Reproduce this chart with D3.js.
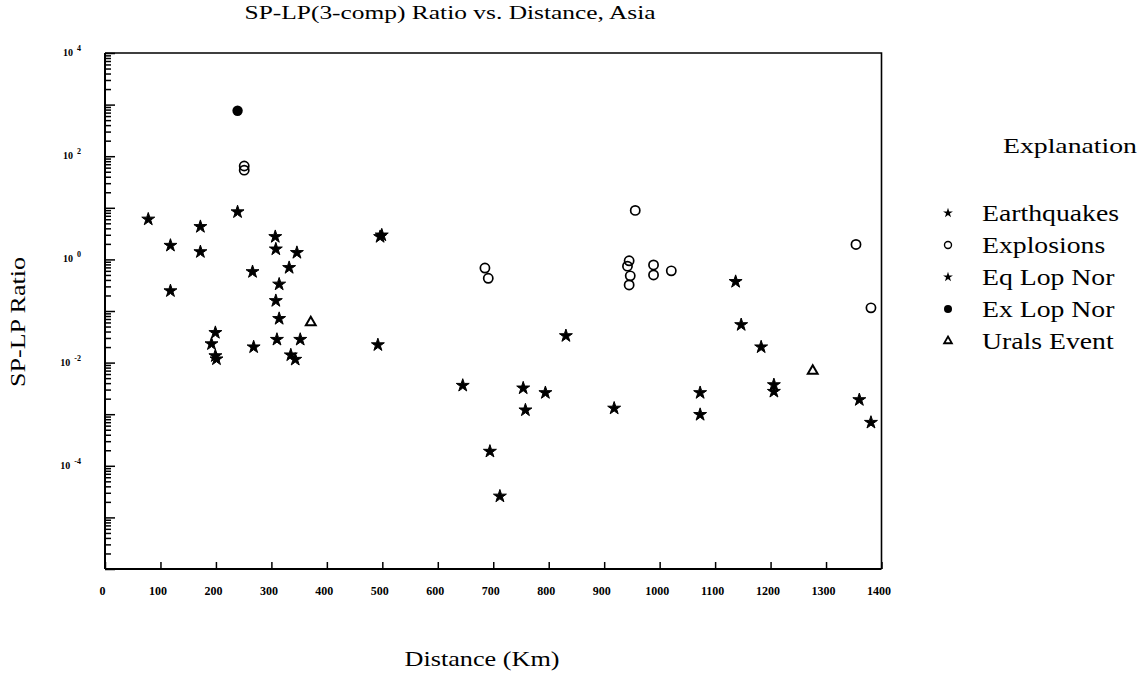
<!DOCTYPE html>
<html><head><meta charset="utf-8">
<script src="https://cdnjs.cloudflare.com/ajax/libs/d3/7.8.5/d3.min.js"></script>
<style>
body{margin:0;background:#fff;}
svg text{font-family:"Liberation Serif","Times New Roman",serif;fill:#000;}
</style></head>
<body><svg id="c" width="1143" height="678"></svg>
<script>
// ---- data (distance km, SP-LP ratio) ----
const earthquakes = [
  [78,6.0],[118,1.86],[118,0.245],[172,4.3],[172,1.4],[199,0.038],[192,0.023],[199,0.0135],[201,0.0117],
  [266,0.575],[268,0.020],[307,2.75],[308,1.58],[346,1.35],[332,0.69],[314,0.33],[308,0.158],[314,0.071],
  [310,0.028],[352,0.028],[335,0.014],[343,0.0115],[496,2.75],[492,0.022],[645,0.0036],[694,0.00019],
  [712,0.0000257],[754,0.0032],[758,0.0012],[794,0.0026],[831,0.033],[918,0.0013],[1073,0.0026],
  [1073,0.00098],[1137,0.37],[1147,0.054],[1183,0.020],[1206,0.0037],[1206,0.00275],[1360,0.0019],[1381,0.00069]
];
const explosions = [
  [251,64.6],[251,53.7],[685,0.68],[691,0.43],[956,8.9],[945,0.94],[942,0.74],[947,0.48],[945,0.32],
  [989,0.78],[989,0.50],[1021,0.60],[1354,1.95],[1381,0.115]
];
const eqLopNor = [[239,8.3],[499,2.95]];
const exLopNor = [[239,760]];
const uralsEvent = [[371,0.063],[1276,0.0072]];
const xTicks = [0,100,200,300,400,500,600,700,800,900,1000,1100,1200,1300,1400];
const yTickExps = [4,2,0,-2,-4];
const legendLabels = ["Earthquakes","Explosions","Eq Lop Nor","Ex Lop Nor","Urals Event"];
const legendSymbols = ["star","circle","star","dot","triangle"];

const svg = d3.select("#c");
const L=105, R=881.5, T=53, B=569;
const x = d3.scaleLinear().domain([0,1400]).range([L,R]);
const y = d3.scaleLog().domain([1e-6,1e4]).range([B,T]);

// frame
svg.append("path").attr("d",`M${L},${T}H${R}V${B}`).attr("fill","none").attr("stroke","#000").attr("stroke-width",1.6);

// y ticks (log minor + decade) via d3 axes
const minorVals = [], majorVals = [];
for(let e=-6;e<4;e++){ majorVals.push(Math.pow(10,e)); for(let m=2;m<10;m++) minorVals.push(m*Math.pow(10,e)); }
majorVals.push(1e4);
const yMinor = svg.append("g").attr("transform",`translate(${L},0)`)
  .call(d3.axisRight(y).tickValues(minorVals).tickSize(6).tickSizeOuter(0).tickFormat(""));
const yMajor = svg.append("g").attr("transform",`translate(${L},0)`)
  .call(d3.axisRight(y).tickValues(majorVals).tickSize(10).tickSizeOuter(0).tickFormat(""));
[yMinor,yMajor].forEach(a=>{a.select(".domain").remove(); a.selectAll(".tick line").attr("stroke","#000").attr("stroke-width",1.5);});

svg.append("line").attr("x1",L).attr("x2",L).attr("y1",T).attr("y2",B).attr("stroke","#000").attr("stroke-width",2);

// y tick labels
const yl = svg.append("g").selectAll("text").data(yTickExps).join("text")
  .attr("x",L-24).attr("y",d=>y(Math.pow(10,d))+3)
  .attr("text-anchor","end").attr("font-size",10).attr("font-weight","bold");
yl.append("tspan").text("10");
yl.append("tspan").attr("dx",4).attr("dy",-5).attr("font-size",8).text(d=>String(d));

// x axis
const xa = svg.append("g").attr("transform",`translate(0,${B})`)
  .call(d3.axisBottom(x).tickValues(xTicks).tickSizeInner(-7).tickSizeOuter(0).tickPadding(17).tickFormat(d=>d));
xa.select(".domain").remove();
xa.selectAll(".tick line").attr("stroke","#000").attr("stroke-width",1.5);
xa.selectAll(".tick text").attr("font-family","Liberation Serif, serif").attr("font-size",12)
  .attr("font-weight","bold").attr("fill","#000").attr("dx",-3);
svg.append("line").attr("x1",L).attr("x2",R).attr("y1",B).attr("y2",B).attr("stroke","#000").attr("stroke-width",2);

// titles
svg.append("text").attr("x",450).attr("y",19).attr("text-anchor","middle").attr("font-size",19)
  .attr("textLength",411).attr("lengthAdjust","spacingAndGlyphs")
  .text("SP-LP(3-comp) Ratio vs. Distance, Asia");
svg.append("text").attr("x",482).attr("y",666).attr("text-anchor","middle").attr("font-size",22)
  .attr("textLength",155).attr("lengthAdjust","spacingAndGlyphs")
  .text("Distance (Km)");
svg.append("text").attr("transform","translate(25,322) rotate(-90)").attr("text-anchor","middle")
  .attr("font-size",22).attr("textLength",130).attr("lengthAdjust","spacingAndGlyphs")
  .text("SP-LP Ratio");

// symbols
const star = d3.symbol().type(d3.symbolStar).size(52);
const starSmall = d3.symbol().type(d3.symbolStar).size(30);
const tri = d3.symbol().type(d3.symbolTriangle).size(42);
const triSmall = d3.symbol().type(d3.symbolTriangle).size(26);
const g = svg.append("g");
function stars(data){
  g.append("g").selectAll("path").data(data).join("path")
    .attr("d",star).attr("transform",d=>`translate(${x(d[0])},${y(d[1])})`)
    .attr("fill","#000").attr("stroke","#000").attr("stroke-width",1);
}
stars(earthquakes);
stars(eqLopNor);
g.append("g").selectAll("circle").data(explosions).join("circle")
  .attr("cx",d=>x(d[0])).attr("cy",d=>y(d[1])).attr("r",4.6)
  .attr("fill","none").attr("stroke","#000").attr("stroke-width",1.7);
g.append("g").selectAll("circle").data(exLopNor).join("circle")
  .attr("cx",d=>x(d[0])).attr("cy",d=>y(d[1])).attr("r",5.2).attr("fill","#000");
g.append("g").selectAll("path").data(uralsEvent).join("path")
  .attr("d",tri).attr("transform",d=>`translate(${x(d[0])},${y(d[1])+1})`)
  .attr("fill","none").attr("stroke","#000").attr("stroke-width",2);

// legend
svg.append("text").attr("x",1003).attr("y",153).attr("font-size",21)
  .attr("textLength",134).attr("lengthAdjust","spacingAndGlyphs").text("Explanation");
const lg = svg.append("g").selectAll("g").data(legendLabels).join("g")
  .attr("transform",(d,i)=>`translate(948,${213+i*32})`);
const lt = lg.append("text").attr("x",34).attr("y",8).attr("font-size",23).text(d=>d);
const base = lt.nodes()[0].getComputedTextLength();
const factor = 137/base;
lt.each(function(){ const n=this; const w=n.getComputedTextLength();
  d3.select(n).attr("textLength",w*factor).attr("lengthAdjust","spacingAndGlyphs"); });
lg.each(function(d,i){
  const s = d3.select(this), t = legendSymbols[i];
  if(t==="star") s.append("path").attr("d",starSmall).attr("fill","#000");
  else if(t==="circle") s.append("circle").attr("r",3.5).attr("fill","none").attr("stroke","#000").attr("stroke-width",1.4);
  else if(t==="dot") s.append("circle").attr("r",4).attr("fill","#000");
  else s.append("path").attr("d",triSmall).attr("fill","none").attr("stroke","#000").attr("stroke-width",1.8);
});
</script></body></html>
